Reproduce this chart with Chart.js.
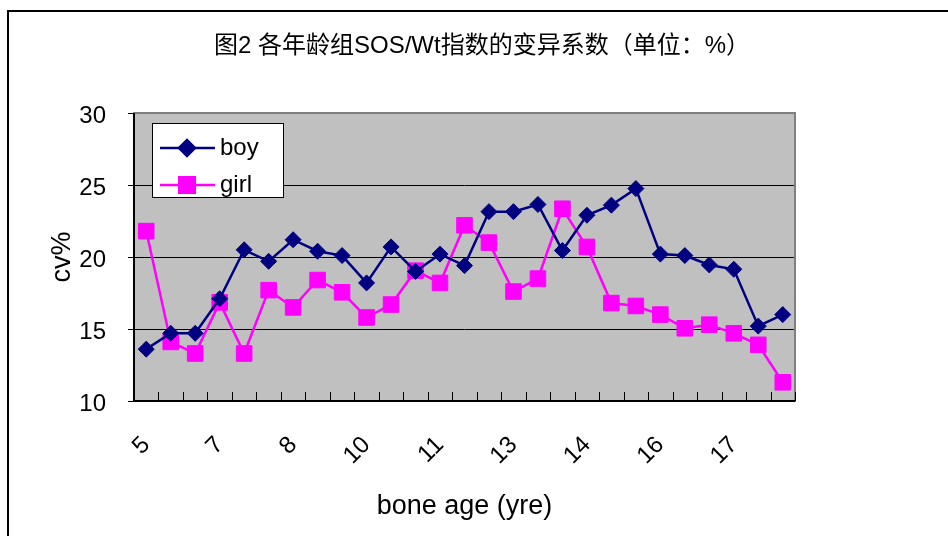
<!DOCTYPE html>
<html>
<head>
<meta charset="utf-8">
<script src="https://cdn.jsdelivr.net/npm/chart.js@4.4.0/dist/chart.umd.min.js"></script>
<style>
  html, body { margin: 0; padding: 0; background: #fff; overflow: hidden; }
  #wrap { position: relative; width: 948px; height: 536px; }
  #frame {
    position: absolute; left: 7px; top: 10px; width: 1000px; height: 600px;
    border-left: 2px solid #000; border-top: 2px solid #000;
  }
  canvas { position: absolute; left: 0; top: 0; }
</style>
</head>
<body>
<div id="wrap">
  <div id="frame"></div>
  <canvas id="cvChart" width="948" height="536"></canvas>
</div>
<script>
  'use strict';

  // bone age groups, half-year steps
  const ages = [5, 5.5, 6, 6.5, 7, 7.5, 8, 8.5, 9, 9.5, 10, 10.5, 11, 11.5,
    12, 12.5, 13, 13.5, 14, 14.5, 15, 15.5, 16, 16.5, 17, 17.5, 18];
  // labels shown under every third group
  const tickLabels = ['5', '7', '8', '10', '11', '13', '14', '16', '17'];
  const yTicks = [10, 15, 20, 25, 30];

  const boy = [13.6, 14.7, 14.7, 17.1, 20.5, 19.7, 21.2, 20.4, 20.1, 18.2,
    20.7, 19.0, 20.2, 19.4, 23.15, 23.15, 23.65, 20.45, 22.9, 23.6, 24.75,
    20.2, 20.1, 19.45, 19.15, 15.2, 16.0];
  const girl = [21.8, 14.1, 13.3, 16.85, 13.3, 17.7, 16.5, 18.4, 17.55, 15.8,
    16.7, 19.05, 18.2, 22.2, 21.0, 17.6, 18.5, 23.35, 20.7, 16.8, 16.6,
    16.0, 15.05, 15.3, 14.7, 13.9, 11.3];

  const TITLE = '图2 各年龄组SOS/Wt指数的变异系数（单位：%）';
  const FONT = "'Liberation Sans', 'Noto Sans CJK SC', sans-serif";

  // title, grey plot area with border, inward x ticks, boxed legend
  const plotDeco = {
    id: 'plotDeco',
    beforeDraw(chart) {
      const a = chart.chartArea, ctx = chart.ctx;
      ctx.save();
      ctx.fillStyle = '#c0c0c0';
      ctx.fillRect(a.left, a.top, a.right - a.left, a.bottom - a.top);
      ctx.fillStyle = '#000';
      ctx.font = '24px ' + FONT;
      ctx.textAlign = 'center';
      ctx.textBaseline = 'middle';
      ctx.fillText(TITLE, 482, 46);
      ctx.restore();
    },
    beforeDatasetsDraw(chart) {
      const a = chart.chartArea, ctx = chart.ctx;
      const x = chart.scales.x;
      ctx.save();
      ctx.strokeStyle = '#808080';
      ctx.lineWidth = 2;
      ctx.strokeRect(a.left, a.top, a.right - a.left, a.bottom - a.top);
      ctx.strokeStyle = '#000';
      ctx.lineWidth = 2;
      ctx.beginPath();
      ctx.moveTo(a.left, a.top); ctx.lineTo(a.left, a.bottom);
      ctx.lineTo(a.right, a.bottom);
      ctx.stroke();
      // tick marks between categories, pointing into the plot
      const half = (x.getPixelForValue(1) - x.getPixelForValue(0)) / 2;
      ctx.lineWidth = 1;
      ctx.beginPath();
      for (let i = 0; i <= ages.length; i++) {
        const px = Math.round(x.getPixelForValue(i) - half) + 0.5;
        ctx.moveTo(px, a.bottom);
        ctx.lineTo(px, a.bottom - 9);
      }
      ctx.stroke();
      ctx.restore();
    },
    afterDraw(chart) {
      const a = chart.chartArea, ctx = chart.ctx;
      const bx = a.left + 18, by = a.top + 10, bw = 131, bh = 74;
      ctx.save();
      ctx.fillStyle = '#fff';
      ctx.fillRect(bx, by, bw, bh);
      ctx.strokeStyle = '#000';
      ctx.lineWidth = 1;
      ctx.strokeRect(bx + 0.5, by + 0.5, bw, bh);
      ctx.font = '24px ' + FONT;
      ctx.textBaseline = 'middle';
      chart.data.datasets.forEach(function (ds, i) {
        const cy = by + 25 + i * 37;
        ctx.strokeStyle = ds.borderColor;
        ctx.lineWidth = 2.5;
        ctx.beginPath();
        ctx.moveTo(bx + 8, cy); ctx.lineTo(bx + 63, cy);
        ctx.stroke();
        ctx.fillStyle = ds.backgroundColor;
        Chart.helpers.drawPoint(ctx, {
          pointStyle: ds.pointStyle, radius: ds.pointRadius, borderWidth: 1
        }, bx + 35, cy);
        ctx.fillStyle = '#000';
        ctx.fillText(ds.label, bx + 68, cy);
      });
      ctx.restore();
    }
  };

  new Chart(document.getElementById('cvChart'), {
    type: 'line',
    data: {
      labels: ages,
      datasets: [{
        label: 'boy',
        data: boy,
        borderColor: '#000080',
        backgroundColor: '#000080',
        borderWidth: 2.5,
        pointStyle: 'rectRot',
        pointRadius: 8,
        pointBorderWidth: 1,
      }, {
        label: 'girl',
        data: girl,
        borderColor: '#ff00ff',
        backgroundColor: '#ff00ff',
        borderWidth: 2.5,
        pointStyle: 'rect',
        pointRadius: 11,
        pointBorderWidth: 1,
      }],
    },
    options: {
      responsive: false,
      animation: false,
      layout: { padding: { left: 40, right: 153, top: 113, bottom: 13 } },
      plugins: {
        legend: { display: false },
        tooltip: { enabled: false },
        title: { display: false },
      },
      scales: {
        x: {
          offset: true,
          afterFit: function (s) { s.height = 122; },
          grid: { display: false },
          border: { display: false },
          ticks: {
            autoSkip: false,
            minRotation: 45,
            maxRotation: 45,
            padding: 22,
            color: '#000',
            font: { family: FONT, size: 24 },
            callback: function (v, i) { return i % 3 === 0 ? tickLabels[i / 3] : ''; },
          },
          title: {
            display: true,
            text: 'bone age (yre)',
            color: '#000',
            font: { family: FONT, size: 27 },
            padding: { top: 0, bottom: 0 },
          },
        },
        y: {
          min: 10,
          max: 30,
          afterBuildTicks: function (s) { s.ticks = yTicks.map(function (v) { return { value: v }; }); },
          afterFit: function (s) { s.width = 94; },
          grid: {
            color: '#000',
            lineWidth: 1,
            tickLength: 6,
            tickColor: '#000',
          },
          border: { display: false },
          ticks: {
            padding: 22,
            labelOffset: 3,
            color: '#000',
            font: { family: FONT, size: 24 },
          },
          title: {
            display: true,
            text: 'cv%',
            color: '#000',
            font: { family: FONT, size: 27 },
            padding: { top: 6, bottom: 0 },
          },
        },
      },
    },
    plugins: [plotDeco],
  });
</script>
</body>
</html>
